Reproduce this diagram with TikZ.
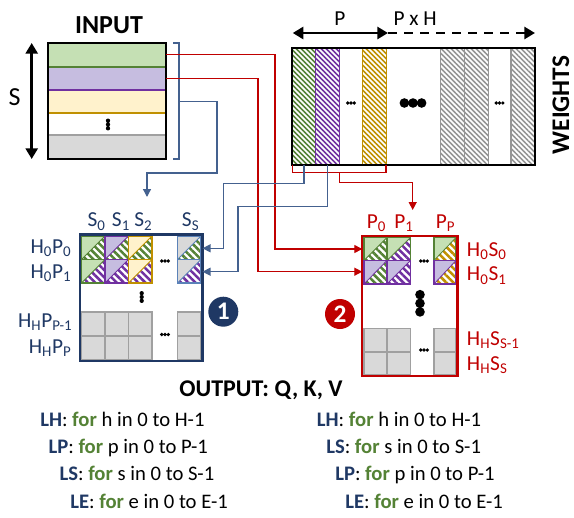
\documentclass[tikz,border=0pt]{standalone}
\usepackage{fontspec}
\setmainfont{Carlito}
\usetikzlibrary{arrows.meta,patterns.meta}
\definecolor{navy}{HTML}{1F3864}
\definecolor{lgreen}{HTML}{C5E0B4}
\definecolor{dgreen}{HTML}{548235}
\definecolor{lpurple}{HTML}{C6BDE0}
\definecolor{dpurple}{HTML}{7030A0}
\definecolor{lyellow}{HTML}{FFF2CC}
\definecolor{dgold}{HTML}{C09000}
\definecolor{lgray}{HTML}{D9D9D9}
\definecolor{mgray}{HTML}{A0A0A0}
\definecolor{hgray}{HTML}{959595}
\definecolor{dred}{HTML}{C00000}
\definecolor{lineblue}{HTML}{44618F}
\definecolor{ssblue}{HTML}{5B82B8}
\newcommand\sbs[1]{\textsubscript{#1}}
\newcommand\tricell[7]{%
  \fill[#5] (#1,#2) -- (#3,#2) -- (#1,#4) -- cycle;
  \path[pattern={Lines[angle=-45,distance=3.8pt,line width=1.9pt]}, pattern color=#6] (#3,#2) -- (#3,#4) -- (#1,#4) -- cycle;
  \draw[#7, line width=0.6pt] (#3,#2) -- (#1,#4);
  \draw[#7, line width=1.1pt] (#1,#2) rectangle (#3,#4);}
\newcommand\graycell[4]{\draw[mgray, fill=lgray, line width=1pt] (#1,#2) rectangle (#3,#4);}
\newcommand\wstripe[3]{%
  \path[pattern={Lines[angle=-45,distance=2.65pt,line width=1.2pt]}, pattern color=#3] (#1,47.7) rectangle (#2,165);
  \draw[#3, line width=1pt] (#1,47.7) rectangle (#2,165);}
\newcommand\hdts[3]{\fill ({#1-#3*2.4},#2) circle (#3 pt) (#1,#2) circle (#3 pt) ({#1+#3*2.4},#2) circle (#3 pt);}
\newcommand\vdts[3]{\fill (#1,{#2-#3*2.4}) circle (#3 pt) (#1,#2) circle (#3 pt) (#1,{#2+#3*2.4}) circle (#3 pt);}
\begin{document}
\begin{tikzpicture}[x=0.75pt,y=-0.75pt, font=\fontsize{16}{19}\selectfont,
  lbl/.style={inner sep=0pt},
  conn/.style={line width=1pt},
  redc/.style={conn, draw=dred},
  bluec/.style={conn, draw=lineblue},
  tip/.style={-{Triangle[length=6pt,width=6pt]}},
  bigarrow/.style={line width=2.2pt},
  badge/.style={circle, inner sep=0pt, minimum size=22.5pt, text=white, font=\bfseries\fontsize{19}{19}\selectfont}]
\useasboundingbox (0,0) rectangle (574,517);

% ---------- INPUT ----------
\fill[lgreen] (47.7,42.7) rectangle (166,66.7);
\fill[lpurple] (47.7,66.7) rectangle (166,90);
\fill[lyellow] (47.7,90) rectangle (166,113.3);
\fill[lgray] (47.7,135) rectangle (166,159.3);
\draw[dgreen, line width=1.3pt] (47.7,66.7) -- (166,66.7);
\draw[dpurple, line width=1.3pt] (47.7,90) -- (166,90);
\draw[dgold, line width=1.3pt] (47.7,113.3) -- (166,113.3);
\draw[mgray, line width=1.3pt] (47.7,135) -- (166,135);
\draw[line width=1.6pt] (47.7,42.7) rectangle (166,159.3);
\vdts{108}{124.5}{1.6}
\node[lbl, anchor=base, font=\bfseries\fontsize{19.5}{20}\selectfont] (inlbl) at (109,33.3) {INPUT};
\coordinate (st) at (31.7,43);
\coordinate (sb) at (31.7,159);
\draw[bigarrow, {Triangle[length=8pt,width=9pt]}-{Triangle[length=8pt,width=9pt]}] (st) -- (sb);
\node[lbl, anchor=base, font=\fontsize{19.5}{20}\selectfont] (slbl) at (14.7,105) {S};
% bracket
\coordinate (bk1) at (173,43);
\coordinate (bk2) at (179,43);
\coordinate (bk3) at (179,159);
\coordinate (bk4) at (173,159);
\draw[bluec] (bk1) -- (bk2) -- (bk3) -- (bk4);

% ---------- WEIGHTS ----------
\wstripe{291.7}{315.7}{dgreen}
\wstripe{315.7}{339.3}{dpurple}
\wstripe{362.3}{386.3}{dgold}
\wstripe{440.7}{464.3}{hgray}
\wstripe{464.3}{488.3}{hgray}
\wstripe{511}{535}{hgray}
\draw[line width=1.6pt] (291.7,47.7) rectangle (535,165);
\hdts{351}{103}{1.4}
\hdts{413}{103}{3.6}
\hdts{499.5}{103}{1.4}
\node[lbl, anchor=center, rotate=90, font=\bfseries\fontsize{19}{20}\selectfont] (wlbl) at (561,105) {WEIGHTS};
\coordinate (pl) at (292.7,33);
\coordinate (pm) at (388,33);
\coordinate (pr) at (535,33);
\draw[bigarrow, {Triangle[length=8pt,width=9pt]}-{Triangle[length=8pt,width=9pt]}] (pl) -- (pm);
\draw[bigarrow, dash pattern=on 7pt off 5pt, -{Triangle[length=8pt,width=9pt]}] (pm) -- (pr);
\node[lbl, anchor=base] (plbl) at (340,25.7) {P};
\node[lbl, anchor=base west] (phlbl) at (393.3,25.7) {P x H};

% ---------- BOX 1 ----------
\tricell{81.5}{236}{105}{259.5}{lgreen}{dgreen}{dgreen}
\tricell{105}{236}{128.5}{259.5}{lpurple}{dgreen}{dpurple}
\tricell{128.5}{236}{152}{259.5}{lyellow}{dgreen}{dgold}
\tricell{177.5}{236}{201}{259.5}{lgray}{dgreen}{ssblue}
\tricell{81.5}{259.5}{105}{283}{lgreen}{dpurple}{dgreen}
\tricell{105}{259.5}{128.5}{283}{lpurple}{dpurple}{dpurple}
\tricell{128.5}{259.5}{152}{283}{lyellow}{dpurple}{dgold}
\tricell{177.5}{259.5}{201}{283}{lgray}{dpurple}{ssblue}
\graycell{81.5}{312}{105}{336}
\graycell{105}{312}{128.5}{336}
\graycell{128.5}{312}{152}{336}
\graycell{177.5}{312}{201}{336}
\graycell{81.5}{336}{105}{359.5}
\graycell{105}{336}{128.5}{359.5}
\graycell{128.5}{336}{152}{359.5}
\graycell{177.5}{336}{201}{359.5}
\draw[navy, line width=1.6pt] (80,234.5) rectangle (202.5,361);
\hdts{165}{261}{1.4}
\vdts{141.7}{297}{1.6}
\hdts{165}{334.5}{1.4}
\coordinate (b1a) at (202.5,248.3);
\coordinate (b1b) at (202.5,271.7);
\begin{scope}[every node/.style={lbl, text=navy}]
\node[anchor=base west] (s0) at (87.3,226.7) {S\sbs{0}};
\node[anchor=base west] (s1) at (111.7,226.7) {S\sbs{1}};
\node[anchor=base west] (s2) at (134,226.7) {S\sbs{2}};
\node[anchor=base west] (ss) at (181.7,226.7) {S\sbs{S}};
\node[anchor=base east] (h0p0) at (71.7,253.3) {H\sbs{0}P\sbs{0}};
\node[anchor=base east] (h0p1) at (71.7,278.3) {H\sbs{0}P\sbs{1}};
\node[anchor=base east] (hhpp1) at (72.7,327.3) {H\sbs{H}P\sbs{P-1}};
\node[anchor=base east] (hhpp) at (71.7,353.3) {H\sbs{H}P\sbs{P}};
\end{scope}
\node[badge, fill=navy] (c1) at (223.3,311.7) {1};

% ---------- BOX 2 ----------
\tricell{364}{237.5}{387}{260.5}{lgreen}{dgreen}{dgreen}
\tricell{387}{237.5}{410.5}{260.5}{lgreen}{dpurple}{dgreen}
\tricell{434}{237.5}{456}{260.5}{lgreen}{dgold}{dgreen}
\tricell{364}{260.5}{387}{284}{lpurple}{dgreen}{dpurple}
\tricell{387}{260.5}{410.5}{284}{lpurple}{dpurple}{dpurple}
\tricell{434}{260.5}{456}{284}{lpurple}{dgold}{dpurple}
\graycell{364}{328.5}{387}{352}
\graycell{387}{328.5}{410.5}{352}
\graycell{434}{328.5}{456}{352}
\graycell{364}{352}{387}{375}
\graycell{387}{352}{410.5}{375}
\graycell{434}{352}{456}{375}
\draw[dred, line width=1.6pt] (362.3,236) rectangle (457.5,375.7);
\hdts{424}{261}{1.4}
\vdts{420}{303.3}{3.6}
\hdts{424}{350}{1.4}
\coordinate (b2a) at (362.3,249);
\coordinate (b2b) at (362.3,271.7);
\coordinate (b2t) at (412.7,210);
\begin{scope}[every node/.style={lbl, text=dred}]
\node[anchor=base west] (p0) at (366.7,228.3) {P\sbs{0}};
\node[anchor=base west] (p1) at (394,228.3) {P\sbs{1}};
\node[anchor=base west] (pp) at (435.7,228.3) {P\sbs{P}};
\node[anchor=base west] (h0s0) at (466.7,256) {H\sbs{0}S\sbs{0}};
\node[anchor=base west] (h0s1) at (466.7,280.7) {H\sbs{0}S\sbs{1}};
\node[anchor=base west] (hhss1) at (466.7,345) {H\sbs{H}S\sbs{S-1}};
\node[anchor=base west] (hhss) at (466.7,370) {H\sbs{H}S\sbs{S}};
\end{scope}
\node[badge, fill=dred] (c2) at (340,314) {2};

% ---------- CONNECTORS ----------
\coordinate (r1s) at (166,54.3);
\coordinate (r2s) at (166,78.3);
\draw[redc, tip] (r1s) -- (275,54.3) -- (275,249) -- (b2a);
\draw[redc, tip] (r2s) -- (258,78.3) -- (258,271.7) -- (b2b);
\coordinate (bls) at (179,101.7);
\coordinate (b1top) at (147,197);
\draw[bluec, tip] (bls) -- (217,101.7) -- (217,173) -- (147,173) -- (b1top);
% red bracket under weights
\coordinate (wb1) at (292.7,165);
\coordinate (wb2) at (386,165);
\draw[redc] (wb1) -- (292.7,172.7) -- (386,172.7) -- (wb2);
\coordinate (wbm) at (339.3,172.7);
\draw[redc, tip] (wbm) -- (339.3,182.7) -- (412.7,182.7) -- (b2t);
% blue from stripes
\coordinate (gs) at (304,165);
\coordinate (ps) at (327.7,165);
\draw[bluec, tip] (gs) -- (304,183.3) -- (223.3,183.3) -- (223.3,248.3) -- (b1a);
\draw[bluec, tip] (ps) -- (327.7,206.7) -- (238,206.7) -- (238,271.7) -- (b1b);

% ---------- OUTPUT ----------
\node[lbl, anchor=base, font=\bfseries\fontsize{18}{20}\selectfont] (out) at (261,396.7) {OUTPUT: Q, K, V};
\newcommand\lp[3]{\textcolor{navy}{\textbf{#1}}: \textcolor{dgreen}{\textbf{for}} #2 in 0 to #3-1}
\begin{scope}[every node/.style={lbl, anchor=base west, font=\fontsize{15.5}{18}\selectfont}]
\node (a1) at (40,426) {\lp{LH}{h}{H}};
\node (a2) at (48.3,453.3) {\lp{LP}{p}{P}};
\node (a3) at (59.3,480.7) {\lp{LS}{s}{S}};
\node (a4) at (70,508) {\lp{LE}{e}{E}};
\node (b1) at (316.7,426) {\lp{LH}{h}{H}};
\node (b2) at (326,453.3) {\lp{LS}{s}{S}};
\node (b3) at (335,480.7) {\lp{LP}{p}{P}};
\node (b4) at (345,508) {\lp{LE}{e}{E}};
\end{scope}
\end{tikzpicture}
\end{document}
